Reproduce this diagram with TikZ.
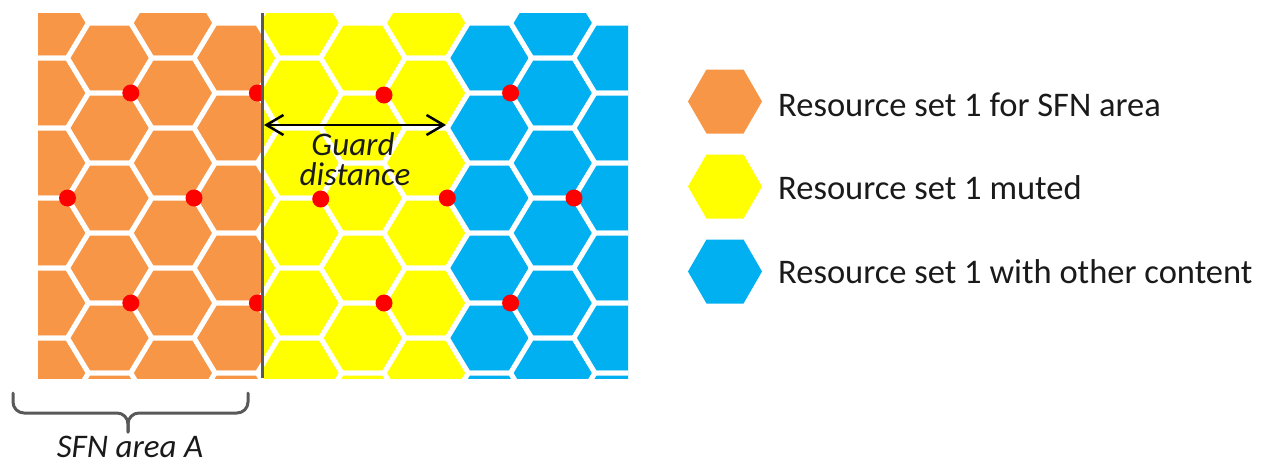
\documentclass[tikz,border=0pt]{standalone}
\usepackage{fontspec}
\setmainfont{Carlito}
\usetikzlibrary{arrows.meta}
\definecolor{hexorange}{HTML}{F79646}
\definecolor{hexyellow}{HTML}{FFFF00}
\definecolor{hexblue}{HTML}{00B0F0}
\definecolor{dotred}{HTML}{FF0000}
\definecolor{linegray}{HTML}{595959}
\definecolor{txtcol}{HTML}{1A1A1A}
\tikzset{
  hexcell/.pic={\path[pic actions] (42.2,0) -- (21.1,35) -- (-21.1,35) -- (-42.2,0) -- (-21.1,-35) -- (21.1,-35) -- cycle;},
  leghex/.pic={\path[pic actions] (37,0) -- (18.5,32) -- (-18.5,32) -- (-37,0) -- (-18.5,-32) -- (18.5,-32) -- cycle;},
  cell/.style={draw=white, line width=5pt, line join=miter},
  reddot/.style={fill=dotred, draw=none},
  legtext/.style={anchor=base west, inner sep=0pt, text=txtcol, font=\fontsize{34.5}{40}\selectfont},
  guardtext/.style={anchor=base, inner sep=0pt, text depth=0pt, text=txtcol, font=\fontsize{33}{38}\selectfont\itshape},
  garrow/.style={{Straight Barb[length=17pt,width=20pt,line width=2.5pt]}-{Straight Barb[length=17pt,width=20pt,line width=2.5pt]}, line width=2.5pt, black},
  bracestyle/.style={draw=linegray, line width=3pt, rounded corners=11pt, line cap=round},
}
\begin{document}
\begin{tikzpicture}[x=1pt, y=-1pt]
\useasboundingbox (0,0) rectangle (1264,466);
% orange SFN area
\begin{scope}
  \clip (38,13) rectangle (262,378);
  \foreach \i in {-3,...,1}{
    \foreach \j in {-1,...,4}{
      \pgfmathsetmacro\cx{173+63.3*\i}
      \pgfmathsetmacro\cy{93+35*mod(\i+10,2)+70*\j}
      \pic[cell, fill=hexorange] at (\cx,\cy) {hexcell};
    }
  }
  \foreach \p in {(130.8,93),(257.4,93),(67.5,198),(194,198),(130.8,303),(257.4,303)}{
    \fill[reddot] \p circle[radius=8.5pt];
  }
\end{scope}
% yellow and blue areas
\begin{scope}
  \clip (262,13) rectangle (628,378);
  \foreach \i in {1,...,4}{
    \foreach \j in {-1,...,4}{
      \pgfmathsetmacro\cx{173+63.3*\i}
      \pgfmathsetmacro\cy{93+35*mod(\i+10,2)+70*\j}
      \pic[cell, fill=hexyellow] at (\cx,\cy) {hexcell};
    }
  }
  \foreach \i in {5,...,7}{
    \foreach \j in {-1,...,4}{
      \pgfmathsetmacro\cx{173+63.3*\i}
      \pgfmathsetmacro\cy{93+35*mod(\i+10,2)+70*\j}
      \pic[cell, fill=hexblue] at (\cx,\cy) {hexcell};
    }
  }
  \foreach \p in {(384,95),(510.6,93),(320.7,199),(447.3,198),(574,198),(384,303),(510.6,303)}{
    \fill[reddot] \p circle[radius=8.5pt];
  }
\end{scope}
% border line
\coordinate (lineTop) at (262,13);
\coordinate (lineBot) at (262,378);
\draw[linegray, line width=3pt] (lineTop) -- (lineBot);
% guard distance
\coordinate (gL) at (264,125);
\coordinate (gR) at (446,125);
\draw[garrow] (gL) -- (gR);
\node[guardtext] (guard1) at (353,155) {Guard};
\node[guardtext] (guard2) at (355,185) {distance};
% brace
\coordinate (bL) at (13,393);
\coordinate (bR) at (248,393);
\coordinate (bM) at (128,413);
\coordinate (bTip) at (128,432);
\draw[bracestyle] (bL) |- (bM) -- (bTip);
\draw[bracestyle] (bR) |- (bM) -- (bTip);
\node[guardtext, font=\fontsize{33}{38}\selectfont\itshape] (sfn) at (130,457) {SFN area A};
% legend
\pic[fill=hexorange] at (725,101.5) {leghex};
\pic[fill=hexyellow] at (725,186.5) {leghex};
\pic[fill=hexblue] at (725,271.5) {leghex};
\node[legtext] (leg1) at (778,116) {Resource set 1 for SFN area};
\node[legtext] (leg2) at (778,199) {Resource set 1 muted};
\node[legtext] (leg3) at (778,283) {Resource set 1 with other content};
\end{tikzpicture}
\end{document}
